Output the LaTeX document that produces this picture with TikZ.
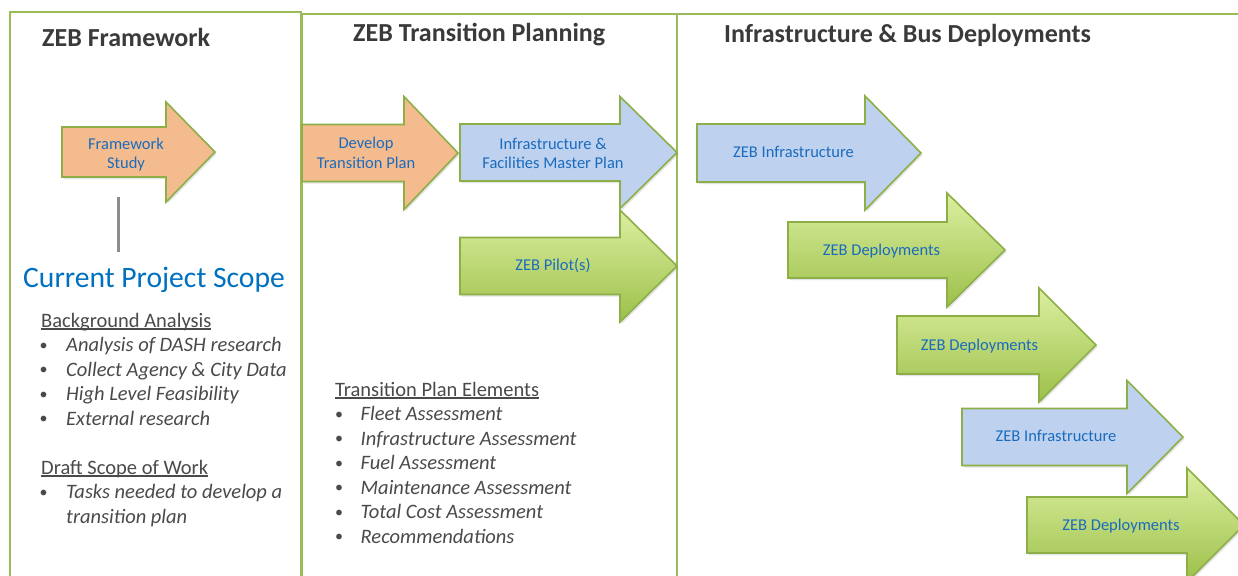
\documentclass[tikz,border=0pt]{standalone}
\usepackage{fontspec}
\setmainfont{Carlito}
\usetikzlibrary{shadows}
\definecolor{panelgreen}{HTML}{9BBB59}
\definecolor{arrowedge}{HTML}{8DAF48}
\definecolor{orangefill}{HTML}{F4BC8E}
\definecolor{bluefill}{HTML}{BED2EF}
\definecolor{greentop}{HTML}{DCEFA0}
\definecolor{greenbot}{HTML}{9CC04A}
\definecolor{labelblue}{HTML}{1A6BBE}
\definecolor{scopeblue}{HTML}{0070C0}
\definecolor{titlegray}{HTML}{3A3A3A}
\definecolor{textgray}{HTML}{4A4A4A}
\definecolor{linegray}{HTML}{8C8C8C}
% style, left, head start, tip, centre y, half body, half head
\newcommand\zarrow[7]{%
  \draw[#1] (#2,#5-#6) -- (#3,#5-#6) -- (#3,#5-#7) -- (#4,#5) -- (#3,#5+#7) -- (#3,#5+#6) -- (#2,#5+#6) -- cycle;}
\newcommand\myul[1]{\setbox0\hbox{#1}\rlap{\rule[-2.8pt]{\wd0}{1.6pt}}\box0}
\tikzset{
  panel/.style={draw=panelgreen, line width=2pt},
  arrowbase/.style={draw=arrowedge, line width=1.6pt, line join=miter,
    drop shadow={opacity=0.22, shadow xshift=1.5pt, shadow yshift=-2pt}},
  orangearrow/.style={arrowbase, fill=orangefill},
  bluearrow/.style={arrowbase, fill=bluefill},
  greenarrow/.style={arrowbase, top color=greentop, bottom color=greenbot},
  lbl/.style={text=labelblue, font=\fontsize{16.5}{19.5}\selectfont, inner sep=0pt, align=center},
  title/.style={text=titlegray, font=\fontsize{26}{30}\selectfont\bfseries, anchor=base west, inner sep=0pt},
  headtxt/.style={text=textgray, font=\fontsize{20.5}{24}\selectfont, anchor=base west, inner sep=0pt},
  itemtxt/.style={text=textgray, font=\fontsize{20.5}{24}\selectfont\itshape, anchor=base west, inner sep=0pt},
  bul/.style={text=textgray, font=\fontsize{16}{20}\selectfont, anchor=base, inner sep=0pt},
  scopeline/.style={draw=linegray, line width=3pt},
}
\begin{document}
\begin{tikzpicture}[x=1pt,y=-1pt]
\useasboundingbox (0,0) rectangle (1238,575);
\clip (0,0) rectangle (1238,575);
\fill[white] (0,0) rectangle (1238,575);
% panels
\draw[panel] (10,600) -- (10,12) -- (301,12) -- (301,600);
\draw[panel] (302,600) -- (302,14) -- (677,14) -- (677,600);
\draw[panel] (677,14) -- (1260,14);
% titles
\node[title] (t1) at (42,47) {ZEB Framework};
\node[title] (t2) at (353,42) {ZEB Transition Planning};
\node[title] (t3) at (724,43) {Infrastructure \& Bus Deployments};
% arrows
\zarrow{orangearrow}{62}{166}{215}{152}{25}{50}
\node[lbl] (fs) at (126,155) {\strut Framework\\\strut Study};
\zarrow{orangearrow}{302}{404}{458}{153}{28.5}{56.5}
\node[lbl] (dtp) at (366,154.5) {\strut Develop\\\strut Transition Plan};
\zarrow{greenarrow}{460}{620}{677}{266}{28.5}{56}
\node[lbl, anchor=base] (pilot) at (553,270.5) {ZEB Pilot(s)};
\zarrow{bluearrow}{460}{620}{677}{152.5}{28.5}{56}
\node[lbl] (ifmp) at (553,155) {\strut Infrastructure \&\\\strut Facilities Master Plan};
\zarrow{bluearrow}{697}{865}{921}{153}{29}{57}
\node[lbl, anchor=base] (zi1) at (793.5,157.7) {ZEB Infrastructure};
\zarrow{greenarrow}{788}{947}{1005}{250}{28}{57}
\node[lbl, anchor=base] (zd1) at (881.5,255.7) {ZEB Deployments};
\zarrow{greenarrow}{897}{1039}{1096}{345}{29}{57}
\node[lbl, anchor=base] (zd2) at (979.5,350) {ZEB Deployments};
\zarrow{bluearrow}{962}{1127}{1183}{437}{28.5}{56.5}
\node[lbl, anchor=base] (zi2) at (1056,441) {ZEB Infrastructure};
\zarrow{greenarrow}{1027}{1187}{1244}{525}{28}{57}
\node[lbl, anchor=base] (zd3) at (1121,530) {ZEB Deployments};
% scope line
\coordinate (lt) at (118,197);
\coordinate (lb) at (118,252);
\draw[scopeline] (lt) -- (lb);
\node[anchor=base west, inner sep=0pt, text=scopeblue, font=\fontsize{29.6}{34}\selectfont] (cps) at (23,287) {Current Project Scope};
% panel 1 list
\node[headtxt] (bgh) at (41,327) {\myul{Background Analysis}};
\node[bul] (b1) at (43.5,350) {•};
\node[itemtxt] (i1) at (66,351.5) {Analysis of DASH research};
\node[bul] (b2) at (43.5,374.5) {•};
\node[itemtxt] (i2) at (66,376) {Collect Agency \& City Data};
\node[bul] (b3) at (43.5,399) {•};
\node[itemtxt] (i3) at (66,400.5) {High Level Feasibility};
\node[bul] (b4) at (43.5,423.5) {•};
\node[itemtxt] (i4) at (66,425) {External research};
\node[headtxt] (dsh) at (41,474) {\myul{Draft Scope of Work}};
\node[bul] (b5) at (43.5,497) {•};
\node[itemtxt] (i5) at (66,498.5) {Tasks needed to develop a};
\node[itemtxt] (i6) at (66,523) {transition plan};
% panel 2 list
\node[headtxt] (tph) at (335,396) {\myul{Transition Plan Elements}};
\node[bul] (c1) at (339,419) {•};
\node[itemtxt] (j1) at (360.5,420.5) {Fleet Assessment};
\node[bul] (c2) at (339,443.5) {•};
\node[itemtxt] (j2) at (360.5,445) {Infrastructure Assessment};
\node[bul] (c3) at (339,468) {•};
\node[itemtxt] (j3) at (360.5,469.5) {Fuel Assessment};
\node[bul] (c4) at (339,492.5) {•};
\node[itemtxt] (j4) at (360.5,494) {Maintenance Assessment};
\node[bul] (c5) at (339,517) {•};
\node[itemtxt] (j5) at (360.5,518.5) {Total Cost Assessment};
\node[bul] (c6) at (339,541.5) {•};
\node[itemtxt] (j6) at (360.5,543) {Recommendations};
\end{tikzpicture}
\end{document}
